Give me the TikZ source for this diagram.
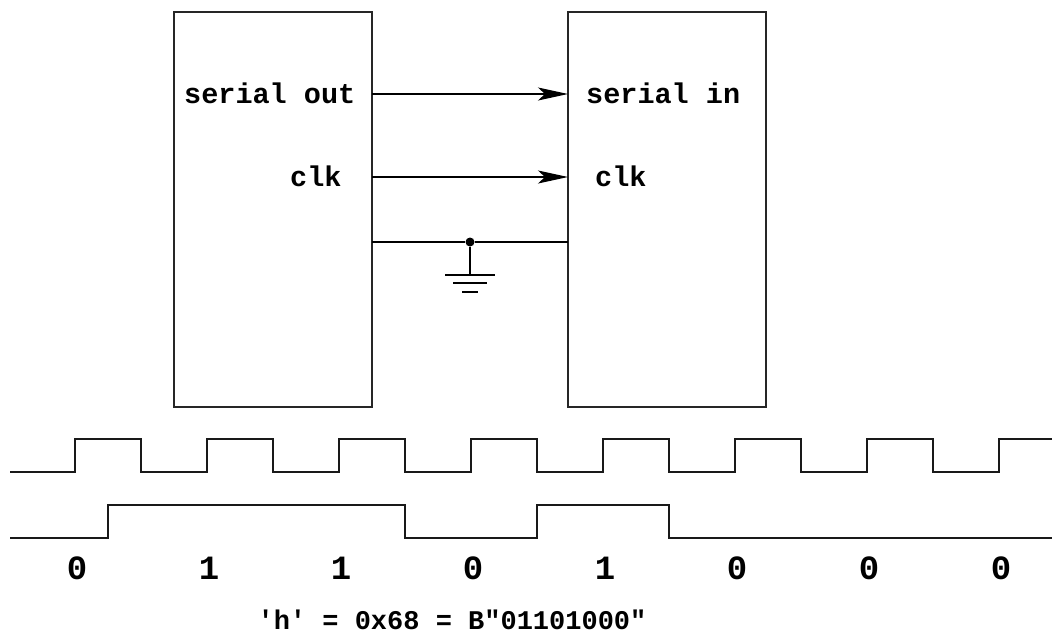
\documentclass[tikz,border=0pt]{standalone}
\usepackage{fontspec}
\setmonofont{Liberation Mono}
\usetikzlibrary{arrows.meta,calc}
\tikzset{
    chip/.style =   {rectangle,
                    fill=none,
                    draw=black!85,
                    line width=1.2pt,
                    minimum width=198pt,
                    minimum height=395pt,
                    inner sep=0pt},
    pin/.style =    {font=\ttfamily\bfseries\fontsize{28.5}{30}\selectfont,
                    text=black,
                    inner sep=0pt},
    bit/.style =    {font=\ttfamily\bfseries\fontsize{34}{36}\selectfont,
                    text=black,
                    anchor=base,
                    inner sep=0pt},
    dot/.style =    {circle,
                    fill=black,
                    inner sep=0pt,
                    minimum size=9pt},
    -,
    sig/.style =    {-{Stealth[length=30pt,width=13pt,inset=7pt]},
                    line width=1.2pt},
    wire/.style =   {line width=1.2pt},
    wave/.style =   {line width=1.4pt, draw=black!90},
    draw=black}

\begin{document}
\begin{tikzpicture}[x=1pt,y=-1pt]
            \useasboundingbox (0,0) rectangle (1052,638);

            % the two chips
            \node[chip]   (tx) at (273,209.5)      {};
            \node[chip]   (rx) at (667,209.5)      {};

            \node[pin,anchor=base west] (so)   at (184,103)   {serial out};
            \node[pin,anchor=base west] (sck)  at (290,186)   {clk};
            \node[pin,anchor=base west] (si)   at (586,103)   {serial in};
            \node[pin,anchor=base west] (rck)  at (595,186)   {clk};

            \coordinate (d-out)   at (372,94);
            \coordinate (d-in)    at (568,94);
            \coordinate (c-out)   at (372,177);
            \coordinate (c-in)    at (568,177);
            \coordinate (g-out)   at (372,242);
            \coordinate (g-in)    at (568,242);
            \node[dot]    (gnd)    at (470,242)    {};
            \coordinate (gnd-bar) at (470,275);

            \draw[sig]   (d-out) -- (d-in);
            \draw[sig]   (c-out) -- (c-in);
            \draw[wire]  (g-out) -- (gnd) -- (g-in);
            \draw[wire]  (gnd) -- (gnd-bar);
            \draw[wire]  ($(gnd-bar)+(-25,0)$) -- ($(gnd-bar)+(25,0)$);
            \draw[wire]  ($(gnd-bar)+(-17,8)$) -- ($(gnd-bar)+(17,8)$);
            \draw[wire]  ($(gnd-bar)+(-8,17)$) -- ($(gnd-bar)+(8,17)$);

            % clock and data lines
            \draw[wave] (10,472) foreach \k in {0,...,6} {-| (75+132*\k,439) -| (141+132*\k,472)}
                        -| (999,439) -- (1052,439);
            \draw[wave] (10,538) -| (108,505) -| (405,538) -| (537,505) -| (669,538) -- (1052,538);

            \node[bit]  (b0) at (77,579)    {0};
            \node[bit]  (b1) at (209,579)   {1};
            \node[bit]  (b2) at (341,579)   {1};
            \node[bit]  (b3) at (473,579)   {0};
            \node[bit]  (b4) at (605,579)   {1};
            \node[bit]  (b5) at (737,579)   {0};
            \node[bit]  (b6) at (869,579)   {0};
            \node[bit]  (b7) at (1001,579)  {0};

            \node[pin,font=\ttfamily\bfseries\fontsize{27}{29}\selectfont,anchor=base]
                        (char) at (452,629)  {'h' = 0x68 = B"01101000"};
        \end{tikzpicture}
\end{document}
